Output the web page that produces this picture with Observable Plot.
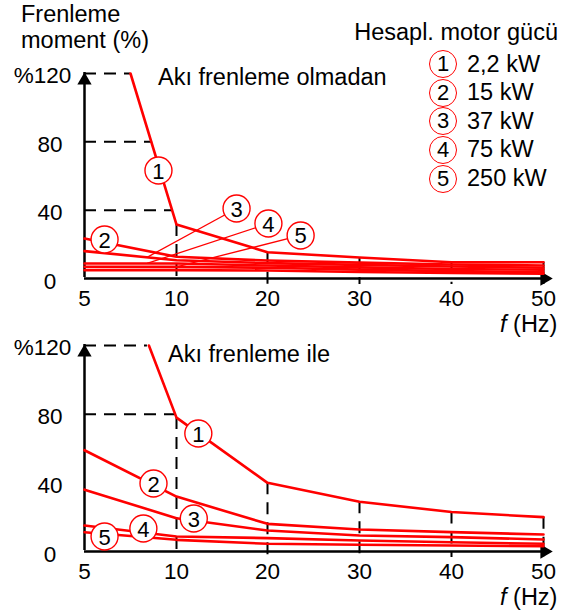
<!DOCTYPE html>
<html><head><meta charset="utf-8">
<script src="https://cdn.jsdelivr.net/npm/d3@7"></script>
<script src="https://cdn.jsdelivr.net/npm/@observablehq/plot@0.6"></script>
<style>
body{margin:0;background:#fff;font-family:"Liberation Sans",Arial,sans-serif;}
#wrap{position:relative;width:563px;height:612px;overflow:hidden;background:#fff;}
#wrap svg{position:absolute;left:0;}
.t{position:absolute;font-size:23.5px;line-height:1;white-space:nowrap;color:#000;}
.leg{position:absolute;left:429px;top:50px;}
.row{display:flex;align-items:center;height:28.6px;}
.circ{box-sizing:border-box;width:28px;height:28px;border:1.5px solid #ff0000;border-radius:50%;display:flex;align-items:center;justify-content:center;font-size:22px;line-height:1;}
.lt{margin-left:10px;font-size:23.5px;line-height:1;}
</style></head>
<body><div id="wrap"></div>
<script>
// ---- data ----
const freqTicks = [5, 10, 20, 30, 40, 50];
const xTickLabels = ["5", "10", "20", "30", "40", "50"];
const yTicks = [0, 40, 80, 120];
const yTickLabels = ["0", "40", "80", "%120"];
const seriesIds = ["1", "2", "3", "4", "5"];
const motorPowers = ["2,2 kW", "15 kW", "37 kW", "75 kW", "250 kW"];

// Top panel: Akı frenleme olmadan
const topF1 = [7.5, 10, 20, 30, 40, 50];
const topT1 = [120, 31.6, 15.4, 12.3, 9.5, 9.5];
const topT2 = [23.4, 12.7, 10.5, 9.3, 8.2, 7.6];
const topT3 = [16, 10.7, 9, 8, 7, 6.3];
const topT4 = [8.8, 8.8, 7.6, 6.5, 5.6, 5.1];
const topT5 = [6.9, 6.8, 6.3, 5.2, 4.3, 3.7];
const topT6 = [4.9, 4.9, 4.7, 3.8, 3.2, 2.8]; // unlabelled line
const topLabelF = [9.02, 6.09, 16.6, 20.1, 23.6];
const topLabelT = [63.2, 22.8, 41, 32.2, 25.2];
const topLeaderIds = ["3", "4", "5"];
const topLeaderF = [8.4, 8.4, 10];
const topLeaderT = [12.4, 8.8, 6.8];
const topHGuideT = [120, 80, 40];
const topHGuideF = [7.5, 8.7, 9.78];

// Bottom panel: Akı frenleme ile
const botF1 = [8.5, 10, 20, 30, 40, 50];
const botT1 = [120, 78, 40, 29, 23, 20];
const botT2 = [59, 32, 16.1, 12.8, 11.3, 9.9];
const botT3 = [36, 19.4, 12.2, 9.3, 8.4, 7];
const botT4 = [15.1, 8.7, 7.8, 6.4, 5.4, 4.5];
const botT5 = [11.2, 6.8, 4.5, 3.9, 3.5, 3.1];
const botLabelF = [12.4, 8.75, 11.9, 8.2, 6.09];
const botLabelT = [68.7, 39.6, 19.2, 13.4, 8.7];
const botHGuideT = [120, 80];
const botHGuideF = [8.42, 10];

// ---- build tables ----
function rows(id, fs, ts) { return fs.map((f, i) => ({id, f, t: ts[i]})); }
const topCurves = [
  ...rows("1", topF1, topT1), ...rows("2", freqTicks, topT2), ...rows("3", freqTicks, topT3),
  ...rows("4", freqTicks, topT4), ...rows("5", freqTicks, topT5), ...rows("6", freqTicks, topT6)
];
const botCurves = [
  ...rows("1", botF1, botT1), ...rows("2", freqTicks, botT2), ...rows("3", freqTicks, botT3),
  ...rows("4", freqTicks, botT4), ...rows("5", freqTicks, botT5)
];
const topLabels = seriesIds.map((id, i) => ({id, f: topLabelF[i], t: topLabelT[i]}));
const botLabels = seriesIds.map((id, i) => ({id, f: botLabelF[i], t: botLabelT[i]}));
const topLeaders = topLeaderIds.map((id, i) => {
  const L = topLabels.find(d => d.id === id);
  return {f1: topLeaderF[i], t1: topLeaderT[i], f2: L.f, t2: L.t};
});
const topH = topHGuideT.map((t, i) => ({t, f: topHGuideF[i]}));
const botH = botHGuideT.map((t, i) => ({t, f: botHGuideF[i]}));
const topV = rows("1", topF1, topT1).filter(d => d.f >= 10);
const botV = rows("1", botF1, botT1).filter(d => d.f >= 10);

const RED = "#ff0000";
const DASH = "12,8";
const xRange = [84, 176, 267, 359, 451, 543];

function panel({curves, labels, leaders, hGuides, vGuides, yRange, height}) {
  return Plot.plot({
    width: 563, height,
    marginLeft: 0, marginRight: 0, marginTop: 0, marginBottom: 0,
    x: {type: "linear", domain: freqTicks, range: xRange, axis: null},
    y: {type: "linear", domain: [0, 120], range: yRange, axis: null},
    style: {fontFamily: "'Liberation Sans', Arial, sans-serif", fontSize: "22.5px", background: "transparent", overflow: "visible"},
    marks: [
      Plot.ruleY(hGuides, {y: "t", x1: 5, x2: "f", stroke: "#000", strokeWidth: 2, strokeDasharray: DASH}),
      Plot.ruleX(vGuides, {x: "f", y1: "t", y2: 0, stroke: "#000", strokeWidth: 2, strokeDasharray: DASH, insetBottom: -6}),
      Plot.ruleX([5], {y1: 0, y2: 120, stroke: "#000", strokeWidth: 2.5, dy: -1}),
      Plot.ruleY([0], {x1: 5, x2: 50, stroke: "#000", strokeWidth: 2.5}),
      Plot.dot([{f: 5, t: 120}], {x: "f", y: "t", symbol: "triangle", r: 5.3, fill: "#000", stroke: null, dy: 7}),
      Plot.dot([{f: 50, t: 0}], {x: "f", y: "t", symbol: "triangle", r: 5.3, fill: "#000", stroke: null, rotate: 90, dx: 1}),
      Plot.line(curves, {x: "f", y: "t", z: "id", stroke: RED, strokeWidth: 2.6}),
      Plot.link(leaders, {x1: "f1", y1: "t1", x2: "f2", y2: "t2", stroke: RED, strokeWidth: 1.3}),
      Plot.dot(labels, {x: "f", y: "t", r: 13.5, fill: "#fff", stroke: RED, strokeWidth: 1.4}),
      Plot.text(labels, {x: "f", y: "t", text: "id", fontSize: 22, fill: "#000", dy: 1}),
      Plot.text(freqTicks, {x: d => d, y: 0, text: (d, i) => xTickLabels[i], dy: 20, fill: "#000"}),
      Plot.text(yTicks, {x: 5, y: d => d, text: (d, i) => yTickLabels[i], filter: d => d !== 120, dx: -34.5, dy: 3, textAnchor: "middle", fill: "#000"}),
      Plot.text(yTicks, {x: 5, y: d => d, text: (d, i) => yTickLabels[i], filter: d => d === 120, dx: -42, dy: 2, textAnchor: "middle", fill: "#000"})
    ]
  });
}

const wrap = document.getElementById("wrap");
const topSvg = panel({curves: topCurves, labels: topLabels, leaders: topLeaders, hGuides: topH, vGuides: topV, yRange: [278, 73], height: 320});
topSvg.style.top = "0px";
const botSvg = panel({curves: botCurves, labels: botLabels, leaders: [], hGuides: botH, vGuides: botV, yRange: [231, 25], height: 292});
botSvg.style.top = "320px";
wrap.appendChild(topSvg);
wrap.appendChild(botSvg);

function addText(html, css) {
  const d = document.createElement("div");
  d.className = "t";
  d.innerHTML = html;
  Object.assign(d.style, css);
  wrap.appendChild(d);
}
addText("Frenleme", {left: "21px", top: "3px"});
addText("moment (%)", {left: "21px", top: "28.5px"});
addText("Akı frenleme olmadan", {left: "158px", top: "66px"});
addText("Akı frenleme ile", {left: "168px", top: "343px"});
addText("Hesapl. motor gücü", {right: "5px", top: "21px"});
addText("<i>f</i> (Hz)", {left: "500px", top: "313px"});
addText("<i>f</i> (Hz)", {left: "500px", top: "586px"});

const leg = document.createElement("div");
leg.className = "leg";
seriesIds.forEach((id, i) => {
  const r = document.createElement("div");
  r.className = "row";
  r.innerHTML = `<div class="circ">${id}</div><div class="lt">${motorPowers[i]}</div>`;
  leg.appendChild(r);
});
wrap.appendChild(leg);
</script>
</body></html>
